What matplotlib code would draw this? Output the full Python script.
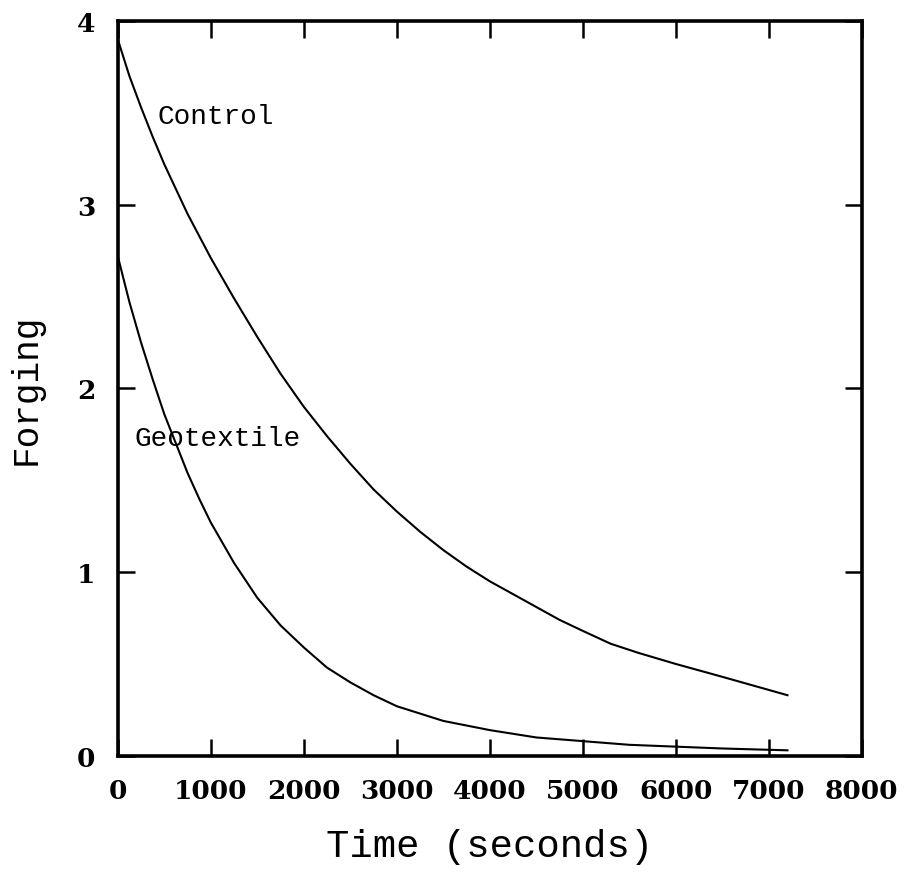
"""Forging decay over time: control vs geotextile."""
import matplotlib
matplotlib.use("Agg")
import matplotlib.pyplot as plt

INK = "black"

# values (seconds, forging)
control_t = [0, 125, 250, 375, 500, 750, 1000, 1250, 1500, 1750, 2000, 2250,
             2500, 2750, 3000, 3250, 3500, 3750, 4000, 4250, 4500, 4750, 5000,
             5300, 5600, 6000, 6500, 7200]
control_f = [3.90, 3.70, 3.53, 3.37, 3.22, 2.95, 2.71, 2.49, 2.28, 2.08, 1.90, 1.74,
             1.59, 1.45, 1.33, 1.22, 1.12, 1.03, 0.95, 0.88, 0.81, 0.74, 0.68,
             0.61, 0.56, 0.50, 0.43, 0.33]

geo_t = [0, 125, 250, 375, 500, 625, 750, 875, 1000, 1250, 1500, 1750, 2000,
         2250, 2500, 2750, 3000, 3500, 4000, 4500, 5000, 5500, 6000, 6500, 7200]
geo_f = [2.72, 2.47, 2.25, 2.05, 1.86, 1.70, 1.54, 1.40, 1.27, 1.05, 0.86, 0.71,
         0.59, 0.48, 0.40, 0.33, 0.27, 0.19, 0.14, 0.10, 0.08, 0.06, 0.05, 0.04,
         0.03]

xticks = [0, 1000, 2000, 3000, 4000, 5000, 6000, 7000, 8000]
yticks = [0, 1, 2, 3, 4]

MONO = "Liberation Mono"
NUM = "DejaVu Serif"

fig = plt.figure(figsize=(9.13, 8.78), dpi=100)
ax = fig.add_axes([0.129, 0.138, 0.815, 0.837])

ax.plot(control_t, control_f, color=INK, lw=1.5, solid_joinstyle="round")
ax.plot(geo_t, geo_f, color=INK, lw=1.5, solid_joinstyle="round")

ax.set_xlim(0, 8000)
ax.set_ylim(0, 4)
ax.set_xticks(xticks)
ax.set_yticks(yticks)
ax.set_xticklabels([str(v) for v in xticks], family=NUM, weight="bold", fontsize=19)
ax.set_yticklabels([str(v) for v in yticks], family=NUM, weight="bold", fontsize=19)
ax.tick_params(direction="in", length=12, width=1.8, top=True, right=True,
               color=INK)
ax.tick_params(axis="x", pad=16)
ax.tick_params(axis="y", pad=16)
for s in ax.spines.values():
    s.set_linewidth(2.6)
    s.set_color(INK)

ax.text(430, 3.48, "Control", family=MONO, fontsize=20, va="center", ha="left")
ax.text(183, 1.73, "Geotextile", family=MONO, fontsize=20, va="center", ha="left")

ax.set_xlabel("Time (seconds)", family=MONO, fontsize=28, labelpad=18)
ax.set_ylabel("Forging", family=MONO, fontsize=26)
ax.yaxis.set_label_coords(-0.10, 0.5)

fig.savefig("out.png", dpi=100, facecolor="white")
